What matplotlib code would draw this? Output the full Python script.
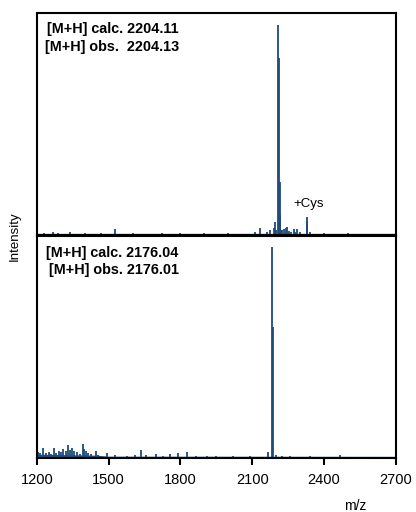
"""Two stacked MALDI mass spectra (m/z 1200-2700)."""

import matplotlib
matplotlib.use("Agg")
import matplotlib.pyplot as plt

plt.rcParams['font.family'] = ['Liberation Sans', 'DejaVu Sans']

PEAK_COLOR = '#1d4b7c'

# Top spectrum (relative intensity)
top_mz = [1230, 1267, 1290, 1338, 1400, 1470, 1526, 1600, 1723, 1800, 1900,
          2000, 2111, 2132, 2160, 2176, 2190, 2196, 2201, 2209, 2212, 2214,
          2216, 2220, 2226, 2234, 2240, 2245, 2252, 2260, 2274, 2280, 2287,
          2300, 2328, 2330, 2340, 2400, 2500]
top_int = [0.004, 0.008, 0.004, 0.008, 0.004, 0.007, 0.025, 0.004, 0.007,
           0.004, 0.003, 0.004, 0.008, 0.03, 0.008, 0.02, 0.03, 0.058, 0.02,
           1.0, 0.84, 0.25, 0.09, 0.02, 0.02, 0.025, 0.03, 0.035, 0.015, 0.01,
           0.022, 0.01, 0.025, 0.008, 0.08, 0.06, 0.008, 0.004, 0.003]

# Bottom spectrum (relative intensity)
bot_mz = [1204, 1214, 1226, 1240, 1251, 1261, 1272, 1282, 1292, 1301, 1310,
          1320, 1330, 1338, 1346, 1356, 1366, 1380, 1391, 1398, 1405, 1415,
          1425, 1446, 1457, 1494, 1526, 1575, 1609, 1637, 1658, 1696, 1728,
          1756, 1790, 1828, 1867, 1909, 1950, 2020, 2091, 2165, 2183, 2186,
          2201, 2226, 2259, 2343, 2468]
bot_int = [0.024, 0.02, 0.042, 0.018, 0.025, 0.015, 0.045, 0.02, 0.03, 0.025,
           0.038, 0.03, 0.057, 0.035, 0.045, 0.03, 0.025, 0.015, 0.06, 0.04,
           0.03, 0.02, 0.015, 0.028, 0.012, 0.02, 0.008, 0.006, 0.008, 0.035,
           0.008, 0.015, 0.006, 0.015, 0.018, 0.023, 0.006, 0.005, 0.005,
           0.005, 0.004, 0.023, 1.0, 0.62, 0.01, 0.006, 0.006, 0.006, 0.008]

# Noise floor of the bottom trace
floor_mz = [1200, 1450, 1500, 2700]
floor_int = [0.014, 0.009, 0.004, 0.003]

top_labels = ['[M+H] calc. 2204.11', '[M+H] obs.  2204.13']
bot_labels = ['[M+H] calc. 2176.04', '[M+H] obs. 2176.01']
xticks = [1200, 1500, 1800, 2100, 2400, 2700]

fig = plt.figure(figsize=(4.16, 5.12), dpi=100)
ax_top = fig.add_axes([0.0885, 0.541, 0.863, 0.433])
ax_bot = fig.add_axes([0.0885, 0.106, 0.863, 0.433])

for ax in (ax_top, ax_bot):
    ax.set_xlim(1200, 2700)
    ax.set_yticks([])
    for sp in ax.spines.values():
        sp.set_linewidth(1.5)
    ax.axhline(0, color=PEAK_COLOR, linewidth=0.9)

ax_top.vlines(top_mz, 0, top_int, color=PEAK_COLOR, linewidth=1.3)
ax_top.set_ylim(-0.0048, 1.056)
ax_top.set_xticks([])
ax_top.text(2337, 0.143, '+Cys', ha='center', va='center', fontsize=9.5)

ax_bot.fill_between(floor_mz, 0, floor_int, color=PEAK_COLOR, linewidth=0)
ax_bot.vlines(bot_mz, 0, bot_int, color=PEAK_COLOR, linewidth=1.3)
ax_bot.set_ylim(-0.003, 1.05)
ax_bot.set_xticks(xticks)
ax_bot.tick_params(axis='x', direction='out', length=5, width=1.5,
                   labelsize=10.5, pad=6)

for ax, labels, ys in ((ax_top, top_labels, (0.928, 0.848)),
                       (ax_bot, bot_labels, (0.924, 0.849))):
    for lab, y in zip(labels, ys):
        ax.text(0.3955, y, lab, transform=ax.transAxes, ha='right',
                va='center', fontsize=10.4, fontweight='bold')

fig.text(0.036, 0.539, 'Intensity', rotation=90, ha='center', va='center',
         fontsize=9.5)
fig.text(0.855, 0.012, 'm/z', ha='center', va='center', fontsize=10)

fig.savefig('out.png', dpi=100)
